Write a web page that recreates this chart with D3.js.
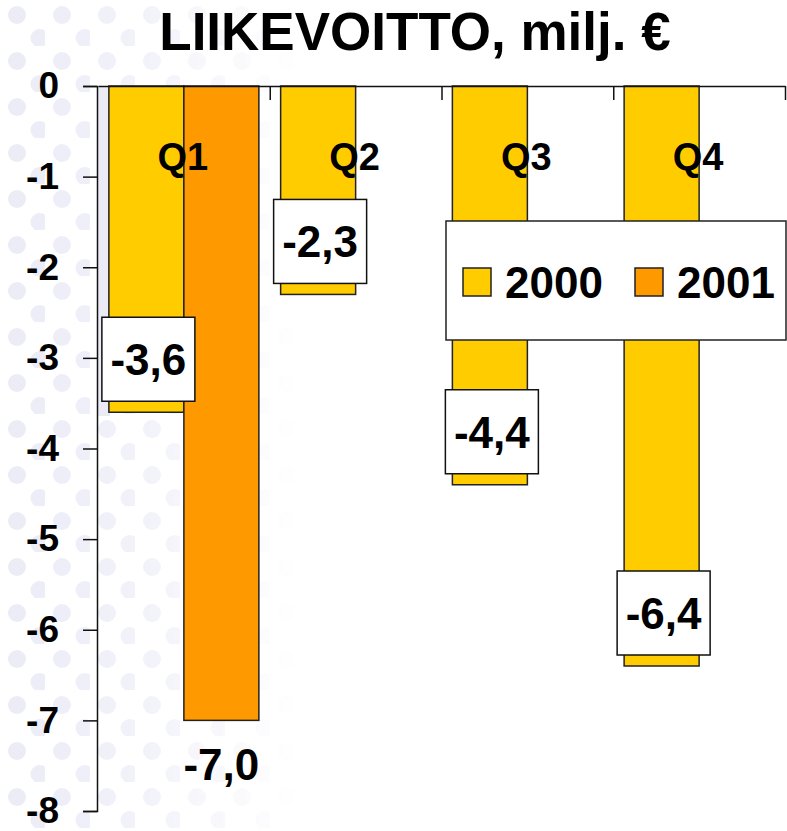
<!DOCTYPE html>
<html>
<head>
<meta charset="utf-8">
<script src="https://cdn.jsdelivr.net/npm/d3@7/dist/d3.min.js"></script>
<style>
  body { margin: 0; background: #fff; }
  svg { display: block; }
  svg text { font-family: "Liberation Sans", Arial, sans-serif; font-weight: 700; fill: #000; }
</style>
</head>
<body>
<div id="chart"></div>
<script>
// data
const quarters = ["Q1", "Q2", "Q3", "Q4"];
const years = ["2000", "2001"];
const values2000 = [-3.6, -2.3, -4.4, -6.4];
const values2001 = [-7.0, null, null, null];
const yTicks = [0, -1, -2, -3, -4, -5, -6, -7, -8];
const colors = { "2000": "#FFCC00", "2001": "#FF9900" };

const W = 787, H = 831;
const svg = d3.select("#chart").append("svg")
  .attr("width", W).attr("height", H);

// faint dotted background on the left side
const defs = svg.append("defs");
const pat = defs.append("pattern")
  .attr("id", "dots").attr("patternUnits", "userSpaceOnUse")
  .attr("width", 45).attr("height", 46);
pat.append("circle").attr("cx", 17).attr("cy", 15).attr("r", 9).attr("fill", "#e6e6f5");
pat.append("circle").attr("cx", 39.5).attr("cy", 38).attr("r", 9).attr("fill", "#e6e6f5");
const grad = defs.append("linearGradient").attr("id", "fade")
  .attr("x1", 0).attr("x2", 1).attr("y1", 0).attr("y2", 0);
grad.append("stop").attr("offset", 0).attr("stop-color", "#fff").attr("stop-opacity", 0.8);
grad.append("stop").attr("offset", 0.5).attr("stop-color", "#fff").attr("stop-opacity", 0.5);
grad.append("stop").attr("offset", 1).attr("stop-color", "#fff").attr("stop-opacity", 0);
const mask = defs.append("mask").attr("id", "fadeMask");
mask.append("rect").attr("width", 300).attr("height", H).attr("fill", "url(#fade)");
svg.append("rect").attr("width", 300).attr("height", H)
  .attr("fill", "url(#dots)").attr("mask", "url(#fadeMask)");
svg.append("rect").attr("x", 98).attr("y", 86).attr("width", 12).attr("height", 330)
  .attr("fill", "#ebebf6");

// scales
const y = d3.scaleLinear().domain([-8, 0]).range([811, 86]);
const x0 = d3.scaleBand().domain(quarters).range([98, 785]);
const x1 = d3.scaleBand().domain(years).range([0, x0.bandwidth()]).paddingOuter(0.145);

// title
svg.append("text")
  .attr("x", 415).attr("y", 50)
  .attr("text-anchor", "middle")
  .style("font-size", "53px")
  .text("LIIKEVOITTO, milj. €");

// bars
const rows = [];
quarters.forEach(function(q, i) {
  rows.push({ q: q, yr: "2000", val: values2000[i] });
  if (values2001[i] != null) rows.push({ q: q, yr: "2001", val: values2001[i] });
});

svg.append("g").selectAll("rect")
  .data(rows)
  .enter().append("rect")
  .attr("x", d => x0(d.q) + x1(d.yr))
  .attr("y", y(0))
  .attr("width", x1.bandwidth())
  .attr("height", d => y(d.val) - y(0))
  .attr("fill", d => colors[d.yr])
  .attr("stroke", "#222")
  .attr("stroke-width", 1.5);

// top category axis (line at zero with separator ticks)
const xb = d3.scaleLinear().domain([0, quarters.length]).range([98, 785]);
svg.append("g")
  .attr("transform", "translate(0," + y(0) + ")")
  .call(d3.axisBottom(xb).tickValues([1, 2, 3, 4]).tickFormat("").tickSizeInner(14).tickSizeOuter(0))
  .call(g => g.select(".domain").attr("stroke", "#111").attr("stroke-width", 1.5))
  .call(g => g.selectAll(".tick line").attr("stroke", "#111").attr("stroke-width", 1.5));

// y axis
svg.append("g")
  .attr("transform", "translate(97,0)")
  .call(d3.axisLeft(y).tickValues(yTicks).tickSize(14).tickPadding(24)
    .tickFormat(d => String(d)))
  .call(g => g.select(".domain").attr("stroke", "#111").attr("stroke-width", 1.5))
  .call(g => g.selectAll(".tick line").attr("stroke", "#111").attr("stroke-width", 1.5))
  .call(g => g.selectAll(".tick text")
    .attr("fill", "#000").attr("font-family", null)
    .style("font-size", "37px"));

// category labels
svg.append("g").selectAll("text")
  .data(quarters)
  .enter().append("text")
  .attr("x", d => x0(d) + x0.bandwidth() / 2 - 1)
  .attr("y", 170)
  .attr("text-anchor", "middle")
  .style("font-size", "38px")
  .text(d => d);

// value labels
const fmt = v => v.toFixed(1).replace(".", ",");
const boxed = rows.filter(d => d.yr === "2000");
const lab = svg.append("g").selectAll("g")
  .data(boxed)
  .enter().append("g")
  .attr("transform", d => "translate(" + (x0(d.q) + x1(d.yr) + x1.bandwidth() / 2 + 2) + "," + (y(d.val) - 53) + ")");
lab.append("rect")
  .attr("x", -46.5).attr("y", -42)
  .attr("width", 93).attr("height", 84)
  .attr("fill", "#fff").attr("stroke", "#111").attr("stroke-width", 1.5);
lab.append("text")
  .attr("text-anchor", "middle")
  .attr("y", 16)
  .style("font-size", "44px")
  .text(d => fmt(d.val));

svg.append("g").selectAll("text")
  .data(rows.filter(d => d.yr === "2001"))
  .enter().append("text")
  .attr("x", d => x0(d.q) + x1(d.yr) + x1.bandwidth() / 2)
  .attr("y", d => y(d.val) + 60)
  .attr("text-anchor", "middle")
  .style("font-size", "44px")
  .text(d => fmt(d.val));

// legend
const leg = svg.append("g").attr("transform", "translate(446,221)");
leg.append("rect")
  .attr("width", 340).attr("height", 119)
  .attr("fill", "#fff").attr("stroke", "#222").attr("stroke-width", 1.5);
const li = leg.selectAll(".li")
  .data(years)
  .enter().append("g")
  .attr("class", "li")
  .attr("transform", (d, i) => "translate(" + (17 + i * 172) + ",47)");
li.append("rect")
  .attr("width", 28).attr("height", 28)
  .attr("fill", d => colors[d]).attr("stroke", "#222").attr("stroke-width", 1.5);
li.append("text")
  .attr("x", 42).attr("y", 30)
  .style("font-size", "44px")
  .text(d => d);
</script>
</body>
</html>
